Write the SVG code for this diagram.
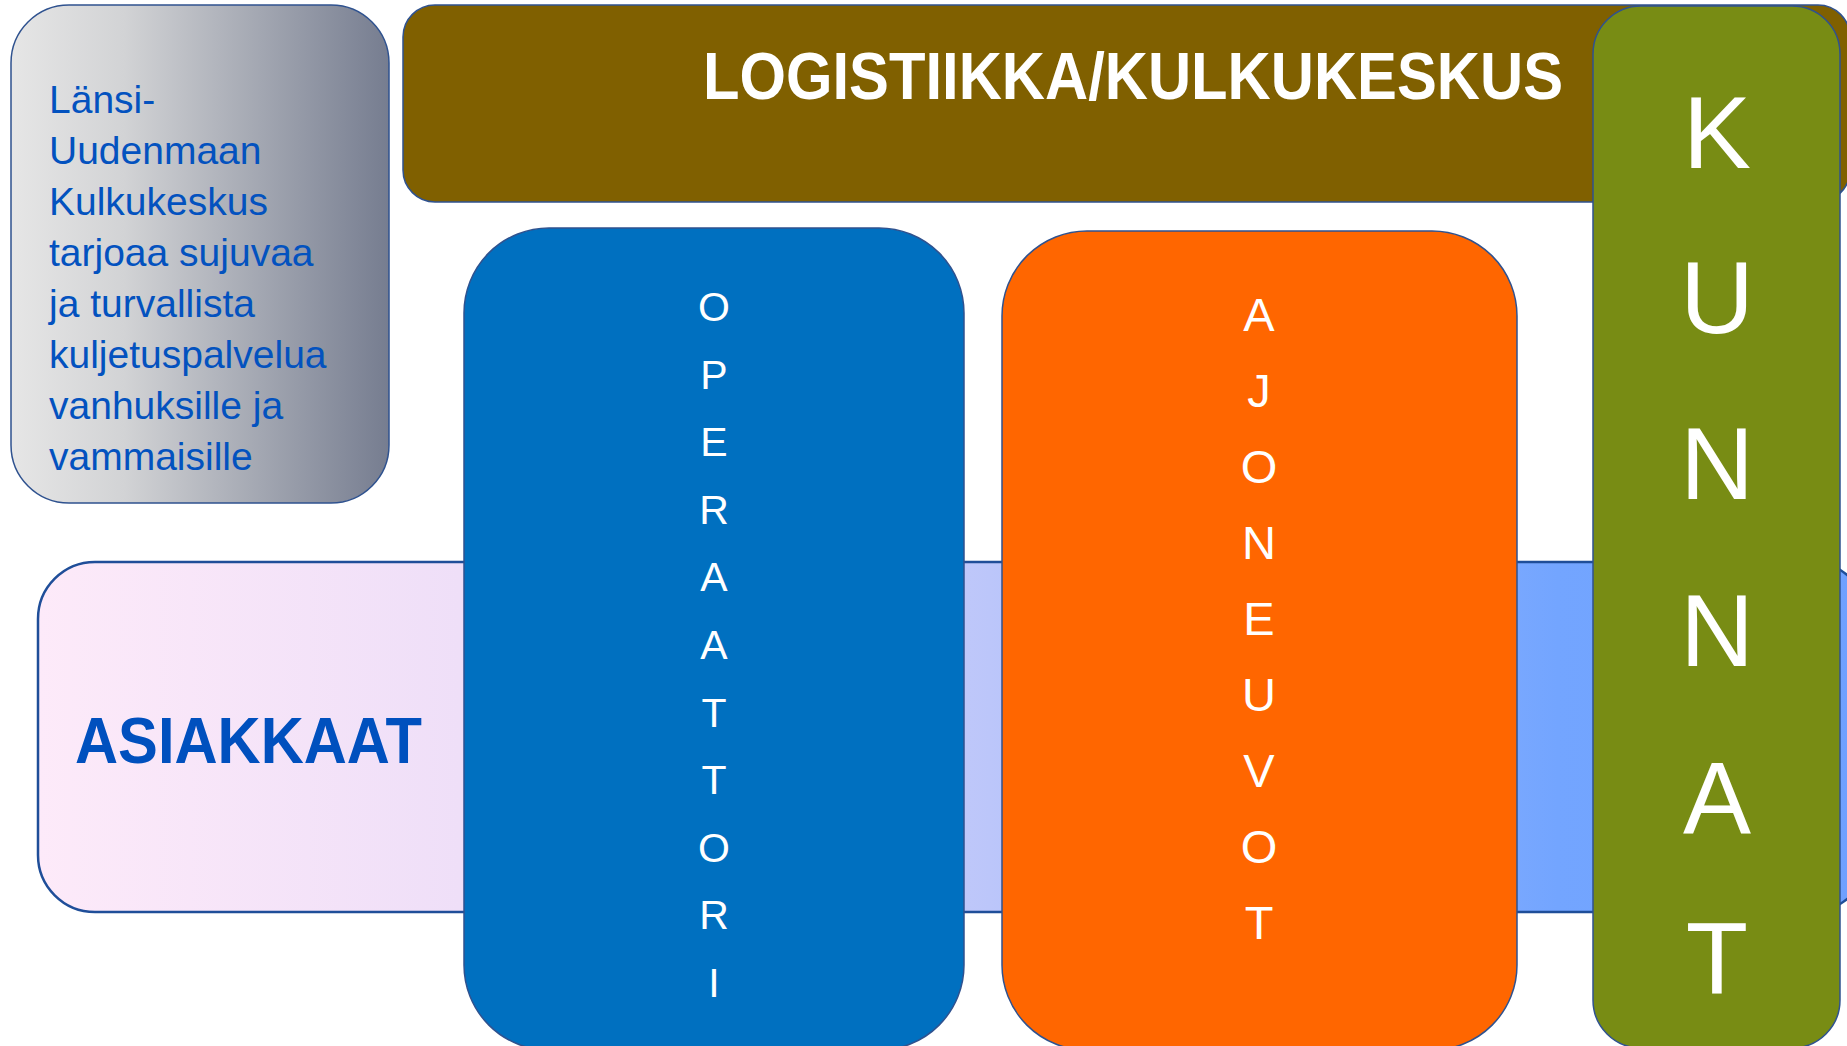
<svg xmlns="http://www.w3.org/2000/svg" width="1847" height="1046" viewBox="0 0 1847 1046">
  <defs>
    <linearGradient id="grayGrad" x1="0" y1="0" x2="1" y2="0">
      <stop offset="0" stop-color="#E6E6E6"/>
      <stop offset="0.3" stop-color="#D2D3D5"/>
      <stop offset="1" stop-color="#767D90"/>
    </linearGradient>
    <linearGradient id="bandGrad" gradientUnits="userSpaceOnUse" x1="38" y1="0" x2="1868" y2="0">
      <stop offset="0" stop-color="#FDEAF9"/>
      <stop offset="0.23" stop-color="#EFDFF8"/>
      <stop offset="0.52" stop-color="#BCC6FA"/>
      <stop offset="0.83" stop-color="#73A5FF"/>
      <stop offset="1" stop-color="#6EA0FF"/>
    </linearGradient>
  </defs>
  <style>
    .box { stroke: #2F528F; stroke-width: 1.5; }
    .band { stroke: #1F4E99; stroke-width: 2.5; }
    .vlet { font-family: "Liberation Sans", Arial, sans-serif; fill: #FFFFFF; text-anchor: middle; }
    .op { font-size: 41px; }
    .aj { font-size: 47px; }
    .ku { font-size: 102px; }
    .body { font-family: "Liberation Sans", Arial, sans-serif; fill: #0352BF; font-size: 39px; }
    .title { font-family: "Liberation Sans", Arial, sans-serif; font-weight: bold; fill: #FFFFFF; font-size: 66px; }
    .big { font-family: "Liberation Sans", Arial, sans-serif; font-weight: bold; fill: #0050BE; font-size: 65px; }
  </style>
  <rect width="1847" height="1046" fill="#FFFFFF"/>

  <g id="connectors"></g>

  <g id="info">
    <rect class="box" x="11" y="5" width="378" height="498" rx="58" ry="58" fill="url(#grayGrad)"/>
    <text class="body" x="49" y="113">Länsi-</text>
    <text class="body" x="49" y="164">Uudenmaan</text>
    <text class="body" x="49" y="215">Kulkukeskus</text>
    <text class="body" x="49" y="266">tarjoaa sujuvaa</text>
    <text class="body" x="49" y="317">ja turvallista</text>
    <text class="body" x="49" y="368">kuljetuspalvelua</text>
    <text class="body" x="49" y="419">vanhuksille ja</text>
    <text class="body" x="49" y="470">vammaisille</text>
  </g>

  <g id="logistiikka">
    <rect class="box" x="403" y="5" width="1447" height="197" rx="32" ry="32" fill="#806000"/>
    <text class="title" x="703" y="99" textLength="860" lengthAdjust="spacingAndGlyphs">LOGISTIIKKA/KULKUKESKUS</text>
  </g>

  <g id="asiakkaat">
    <rect class="band" x="38" y="562" width="1830" height="350" rx="57" ry="57" fill="url(#bandGrad)"/>
    <text class="big" x="75" y="763" textLength="347" lengthAdjust="spacingAndGlyphs">ASIAKKAAT</text>
  </g>

  <g id="operaattori">
    <rect class="box" x="464" y="228" width="500" height="822" rx="85" ry="85" fill="#0070C0"/>
    <text class="vlet op" x="714" y="321">O</text>
    <text class="vlet op" x="714" y="388.6">P</text>
    <text class="vlet op" x="714" y="456.2">E</text>
    <text class="vlet op" x="714" y="523.8">R</text>
    <text class="vlet op" x="714" y="591.4">A</text>
    <text class="vlet op" x="714" y="659">A</text>
    <text class="vlet op" x="714" y="726.6">T</text>
    <text class="vlet op" x="714" y="794.2">T</text>
    <text class="vlet op" x="714" y="861.8">O</text>
    <text class="vlet op" x="714" y="929.4">R</text>
    <text class="vlet op" x="714" y="997">I</text>
  </g>

  <g id="ajoneuvot">
    <rect class="box" x="1002" y="231" width="515" height="819" rx="85" ry="85" fill="#FF6600"/>
    <text class="vlet aj" x="1259" y="331">A</text>
    <text class="vlet aj" x="1259" y="407">J</text>
    <text class="vlet aj" x="1259" y="483">O</text>
    <text class="vlet aj" x="1259" y="559">N</text>
    <text class="vlet aj" x="1259" y="635">E</text>
    <text class="vlet aj" x="1259" y="711">U</text>
    <text class="vlet aj" x="1259" y="787">V</text>
    <text class="vlet aj" x="1259" y="863">O</text>
    <text class="vlet aj" x="1259" y="939">T</text>
  </g>

  <g id="kunnat">
    <rect class="box" x="1593" y="6" width="247" height="1042" rx="48" ry="48" fill="#788C14"/>
    <text class="vlet ku" x="1717" y="168">K</text>
    <text class="vlet ku" x="1717" y="333">U</text>
    <text class="vlet ku" x="1717" y="499">N</text>
    <text class="vlet ku" x="1717" y="666">N</text>
    <text class="vlet ku" x="1717" y="834">A</text>
    <text class="vlet ku" x="1717" y="994">T</text>
  </g>
</svg>
